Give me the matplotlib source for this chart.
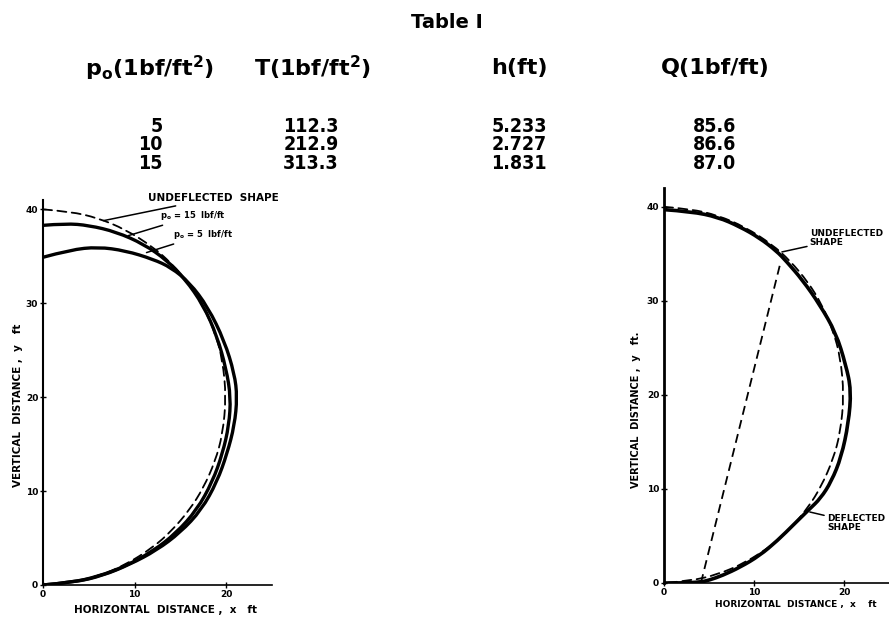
import matplotlib.pyplot as plt
from matplotlib.path import Path
from matplotlib.patches import PathPatch

plt.rcParams['font.family'] = ['DejaVu Sans']
plt.rcParams['font.weight'] = 'bold'

# table I
headers = ['p$_\\mathregular{o}$(1bf/ft$^\\mathregular{2}$)', 'T(1bf/ft$^\\mathregular{2}$)', 'h(ft)', 'Q(1bf/ft)']
p0_vals = ['5', '10', '15']
T_vals = ['112.3', '212.9', '313.3']
h_vals = ['5.233', '2.727', '1.831']
Q_vals = ['85.6', '86.6', '87.0']

# left figure: shapes for two loadings, plus undeflected circle
undef_x = [0, 3, 6, 9, 12, 14, 16, 17.5, 18.8, 19.6, 20, 19.6, 18.8, 17.5, 16, 14, 12, 9, 6, 3, 0]
undef_y = [40, 39.77, 39.08, 37.86, 36.0, 34.28, 32.0, 29.68, 26.82, 23.98, 20,
           16.02, 13.18, 10.32, 8.0, 5.72, 4.0, 2.14, 0.92, 0.23, 0]

p15_x = [0, 2.5, 5, 8, 11, 13.5, 15.5, 17.5, 19, 20, 20.5, 20.3, 19.6, 18.5, 16.8, 14.5, 12, 9, 6, 3, 0]
p15_y = [38.3, 38.5, 38.3, 37.6, 36.3, 34.6, 32.6, 29.8, 26.5, 23, 20,
         17, 14, 11, 8, 5.5, 3.6, 2.0, 0.9, 0.25, 0]

p5_x = [0, 3, 6, 9, 12, 14, 16, 18, 19.8, 20.9, 21.2, 20.9, 20.1, 19, 17.3, 15, 12.4, 9.5, 6.5, 3.5, 0]
p5_y = [34.9, 35.7, 36.0, 35.6, 34.7, 33.8, 32.2, 29.6, 26, 22.5, 20,
        17, 14, 11, 8, 5.6, 3.7, 2.2, 1.0, 0.3, 0]

# right figure: deflected shape and chord
defl_x = [0, 3, 6, 8.4, 10.6, 12.5, 13.6, 15.4, 17.3, 19.1, 20.2, 20.8, 20.5, 19.7, 18.6,
          17.4, 16.1, 14.5, 12.6, 10.6, 8.5, 6.5, 5, 4.1, 2, 0]
defl_y = [39.7, 39.5, 38.9, 37.9, 36.7, 35.3, 34.2, 32.2, 29.6, 26.6, 23.2, 20.5, 17, 13.4, 10.8,
          9.0, 7.8, 6.3, 4.5, 2.9, 1.7, 0.8, 0.3, 0.1, 0, 0]
chord_x = [4.1, 12.9]
chord_y = [0, 33.9]

W, H = 889, 621
fig = plt.figure(figsize=(W / 100, H / 100), dpi=100)


def px(x, y):
    return x / W, 1 - y / H


def smooth(ax, xs, ys, **kw):
    # quadratic bezier through midpoints so the traced shape has no corners
    pts = list(zip(xs, ys))
    verts = [pts[0]]
    codes = [Path.MOVETO]
    for i in range(1, len(pts) - 1):
        mid = ((pts[i][0] + pts[i + 1][0]) / 2, (pts[i][1] + pts[i + 1][1]) / 2)
        if i == len(pts) - 2:
            mid = pts[-1]
        verts += [pts[i], mid]
        codes += [Path.CURVE3, Path.CURVE3]
    ax.add_patch(PathPatch(Path(verts, codes), fill=False, edgecolor='black',
                           capstyle='round', **kw))


# ---- table ----
fig.text(*px(447, 22), 'Table I', ha='center', va='center', fontsize=14)
col_x = [150, 312, 519, 715]
for cx, h in zip(col_x, headers):
    fig.text(*px(cx, 68), h, ha='center', va='center', fontsize=16)
row_y = [127, 145, 163]
for i, ry in enumerate(row_y):
    fig.text(*px(163, ry), p0_vals[i], ha='right', va='center', fontsize=14, stretch='condensed')
    fig.text(*px(311, ry), T_vals[i], ha='center', va='center', fontsize=14, stretch='condensed')
    fig.text(*px(519, ry), h_vals[i], ha='center', va='center', fontsize=14, stretch='condensed')
    fig.text(*px(715, ry), Q_vals[i], ha='center', va='center', fontsize=14, stretch='condensed')


def style_axes(ax, lw):
    for s in ['top', 'right']:
        ax.spines[s].set_visible(False)
    ax.spines['left'].set_linewidth(lw)
    ax.spines['bottom'].set_linewidth(1.2)
    ax.tick_params(direction='inout', length=5, width=1, labelsize=6.5, pad=1)
    ax.set_xticks([0, 10, 20])
    ax.set_yticks([0, 10, 20, 30, 40])
    ax.patch.set_alpha(0)


# ---- left plot ----
ax1 = fig.add_axes([43 / W, (H - 585) / H, 229 / W, 385 / H])
smooth(ax1, undef_x, undef_y, lw=1.3, linestyle=(0, (5, 3)))
smooth(ax1, p15_x, p15_y, lw=2.4)
smooth(ax1, p5_x, p5_y, lw=2.4)
ax1.set_xlim(0, 25)
ax1.set_ylim(0, 41)
style_axes(ax1, 1.5)

lead = dict(arrowstyle='-', color='black', lw=1.1, shrinkA=0, shrinkB=0)
ax1.annotate('UNDEFLECTED  SHAPE', xy=(6.6, 38.8), xytext=(11.5, 41.2), fontsize=7.5,
             va='center', ha='left', arrowprops=lead, annotation_clip=False)
ax1.annotate('p$_\\mathregular{o}$ = 15  lbf/ft', xy=(9.3, 37.2), xytext=(12.8, 39.3), fontsize=6,
             va='center', ha='left', arrowprops=lead, annotation_clip=False)
ax1.annotate('p$_\\mathregular{o}$ = 5  lbf/ft', xy=(11.3, 35.4), xytext=(14.2, 37.3), fontsize=6,
             va='center', ha='left', arrowprops=lead, annotation_clip=False)

fig.text(*px(166, 610), 'HORIZONTAL  DISTANCE ,  x   ft', ha='center', va='center', fontsize=7.5)
fig.text(*px(18, 405), 'VERTICAL  DISTANCE ,  y   ft', ha='center', va='center',
         rotation=90, fontsize=7.5)

# ---- right plot ----
ax2 = fig.add_axes([664 / W, (H - 583) / H, 225 / W, 395 / H])
smooth(ax2, undef_x, undef_y, lw=1.3, linestyle=(0, (5, 3)))
ax2.plot(chord_x, chord_y, color='black', lw=1.3, dashes=(5, 3))
smooth(ax2, defl_x, defl_y, lw=2.6)
ax2.set_xlim(0, 25)
ax2.set_ylim(0, 42)
style_axes(ax2, 2.0)

ax2.annotate('UNDEFLECTED\nSHAPE', xy=(13.1, 35.2), xytext=(16.2, 36.7), fontsize=6.5,
             va='center', ha='left', linespacing=1.0, arrowprops=lead, annotation_clip=False)
ax2.annotate('DEFLECTED\nSHAPE', xy=(16.2, 7.55), xytext=(18.1, 6.4), fontsize=6.5,
             va='center', ha='left', linespacing=1.0, arrowprops=lead, annotation_clip=False)

fig.text(*px(796, 604), 'HORIZONTAL  DISTANCE ,  x    ft', ha='center', va='center', fontsize=6.5)
fig.text(*px(636, 410), 'VERTICAL  DISTANCE ,  y   ft.', ha='center', va='center',
         rotation=90, fontsize=7)

fig.savefig('out.png', dpi=100)
